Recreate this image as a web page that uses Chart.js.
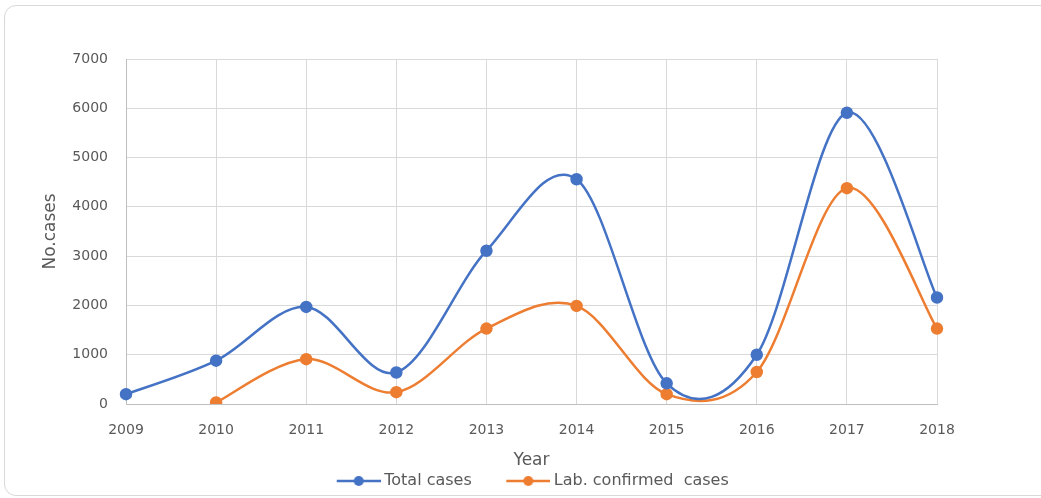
<!DOCTYPE html>
<html>
<head>
<meta charset="utf-8">
<script src="https://cdn.jsdelivr.net/npm/chart.js@4"></script>
<style>
  html, body { margin: 0; padding: 0; background: #fff; }
  .frame {
    position: absolute; left: 4px; top: 5px; width: 1050px; height: 489px;
    border: 1px solid #d9d9d9; border-radius: 12px;
  }
  canvas { position: absolute; left: 0; top: 0; }
</style>
</head>
<body>
<div class="frame"></div>
<canvas id="chart" width="1041" height="498"></canvas>
<script>
var years = ['2009', '2010', '2011', '2012', '2013', '2014', '2015', '2016', '2017', '2018'];
var totalCases = [200, 880, 1970, 640, 3110, 4560, 420, 1000, 5910, 2160];
var labConfirmed = [null, 30, 910, 240, 1530, 1990, 200, 650, 4380, 1530];

var blue = '#4472C4';
var orange = '#ED7D31';
var textColor = '#595959';
var fontFamily = "'DejaVu Sans', sans-serif";

var markerBox = 70;          // legend pointStyleWidth
var markerImg = markerBox + 9;

// legend marker: short line with a dot, sitting close to the text like Excel
function legendMarker(color) {
    var c = document.createElement('canvas');
    c.width = markerImg; c.height = 12;
    var ctx = c.getContext('2d');
    var x0 = markerImg - 44;
    ctx.strokeStyle = color;
    ctx.lineWidth = 2.5;
    ctx.beginPath();
    ctx.moveTo(x0, 6); ctx.lineTo(markerImg, 6);
    ctx.stroke();
    ctx.fillStyle = color;
    ctx.beginPath();
    ctx.arc(x0 + 22, 6, 5, 0, Math.PI * 2);
    ctx.fill();
    return c;
}

// Excel-style smoothing (catmull-rom, 1/6 of neighbour span)
var excelSmooth = {
    id: 'excelSmooth',
    afterLayout: function (chart) {
        chart.legend.left += 29;
        chart.legend.right += 29;
    },
    beforeDatasetsDraw: function (chart) {
        chart.data.datasets.forEach(function (ds, di) {
            var meta = chart.getDatasetMeta(di);
            meta.dataset.updateControlPoints(chart.chartArea);
            var pts = meta.data.filter(function (p) { return !p.skip; });
            for (var i = 0; i < pts.length; i++) {
                var prev = pts[i - 1] || pts[i];
                var next = pts[i + 1] || pts[i];
                var dx = (next.x - prev.x) / 6, dy = (next.y - prev.y) / 6;
                pts[i].cp1x = pts[i].x - dx; pts[i].cp1y = pts[i].y - dy;
                pts[i].cp2x = pts[i].x + dx; pts[i].cp2y = pts[i].y + dy;
            }
        });
    }
};

new Chart(document.getElementById('chart'), {
    type: 'line',
    data: {
        labels: years,
        datasets: [{
            label: 'Total cases',
            data: totalCases,
            borderColor: blue,
            backgroundColor: blue,
            borderWidth: 2.5,
            pointRadius: 5,
            pointStyle: 'circle',
            tension: 0.4
        }, {
            label: 'Lab. confirmed  cases',
            data: labConfirmed,
            borderColor: orange,
            backgroundColor: orange,
            borderWidth: 2.5,
            pointRadius: 5,
            pointStyle: 'circle',
            tension: 0.4
        }]
    },
    options: {
        responsive: false,
        animation: false,
        layout: { padding: { left: 40, right: 104, top: 59, bottom: -1 } },
        plugins: {
            legend: {
                position: 'bottom',
                labels: {
                    color: textColor,
                    font: { family: fontFamily, size: 16 },
                    usePointStyle: true,
                    pointStyleWidth: markerBox,
                    padding: 4,
                    generateLabels: function (chart) {
                        return chart.data.datasets.map(function (ds, i) {
                            return {
                                text: ds.label,
                                fontColor: textColor,
                                pointStyle: legendMarker(ds.borderColor),
                                strokeStyle: ds.borderColor,
                                fillStyle: ds.borderColor,
                                lineWidth: 0,
                                datasetIndex: i
                            };
                        });
                    }
                }
            },
            tooltip: { enabled: false }
        },
        scales: {
            x: {
                offset: false,
                grid: { color: '#d9d9d9', drawTicks: false },
                border: { color: '#bfbfbf' },
                ticks: { color: textColor, font: { family: fontFamily, size: 14 }, padding: 18, maxRotation: 0 },
                title: { display: true, text: 'Year', color: textColor, font: { family: fontFamily, size: 17 }, padding: { top: 0, bottom: -2 } },
                afterFit: function (s) { s.height = 65; }
            },
            y: {
                min: 0, max: 7000,
                grid: { color: '#d9d9d9', drawTicks: false },
                border: { color: '#bfbfbf' },
                ticks: { stepSize: 1000, color: textColor, font: { family: fontFamily, size: 14 }, padding: 18,
                         callback: function (v) { return String(v); } },
                title: { display: true, text: 'No.cases', color: textColor, font: { family: fontFamily, size: 17 }, padding: { top: 0, bottom: 0 } },
                afterFit: function (s) { s.width = 86; }
            }
        }
    },
    plugins: [excelSmooth]
});
</script>
</body>
</html>
